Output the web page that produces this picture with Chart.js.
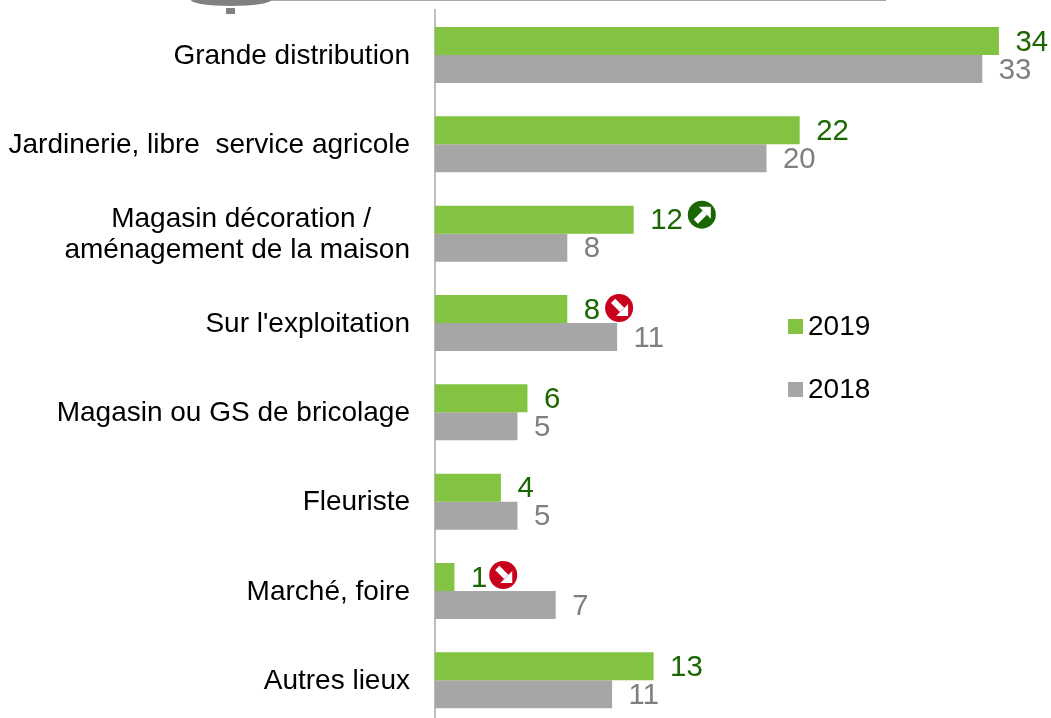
<!DOCTYPE html>
<html lang="fr">
<head>
  <meta charset="UTF-8">
  <title>Lieux d'achat 2019 / 2018</title>
  <style>
    html, body { margin: 0; padding: 0; background: #fff; overflow: hidden; }
    #frame { width: 1051px; height: 718px; overflow: hidden; }
    #plot { position: relative; width: 1051px; height: 725px; }
  </style>
</head>
<body>
  <div id="frame">
    <div id="plot">
      <canvas id="myChart" role="img" aria-label="Lieux d'achat, comparaison 2019 et 2018"></canvas>
    </div>
  </div>

  <script src="https://cdnjs.cloudflare.com/ajax/libs/Chart.js/4.4.1/chart.umd.js"></script>
  <script>
    const categories = [
      'Grande distribution',
      'Jardinerie, libre\u00a0 service agricole',
      ['Magasin décoration /\u00a0\u00a0\u00a0\u00a0\u00a0', 'aménagement de la maison'],
      "Sur l'exploitation",
      'Magasin ou GS de bricolage',
      'Fleuriste',
      'Marché, foire',
      'Autres lieux'
    ];
    // bar lengths, printed labels are the rounded figures
    const values2019 = [34, 22, 12, 8, 5.6, 4, 1.2, 13.2];
    const values2018 = [33, 20, 8, 11, 5, 5, 7.3, 10.7];
    const labels2019 = ['34', '22', '12', '8', '6', '4', '1', '13'];
    const labels2018 = ['33', '20', '8', '11', '5', '5', '7', '11'];
    const trend2019 = ['', '', 'up', 'down', '', '', 'down', ''];

    const FONT = '28px "Liberation Sans", Arial, sans-serif';
    const VALUE_FONT = '29.33px "Liberation Sans", Arial, sans-serif';
    const GREEN = '#82C341';
    const GREY = '#A6A6A6';
    const DARK_GREEN = '#1A6600';
    const LABEL_GREY = '#7F7F7F';
    const RED = '#C8001E';

    // badges were placed by hand on the slide, so each has its own nudge
    const badgeDx = [0, 0, 19, 19, 0, 0, 16, 0];
    const badgeDy = [0, 0, -5, -1, 0, 0, -2, 0];

    function drawBadge(ctx, cx, cy, dir) {
      ctx.save();
      ctx.fillStyle = dir === 'up' ? DARK_GREEN : RED;
      ctx.beginPath();
      ctx.arc(cx, cy, 14, 0, Math.PI * 2);
      ctx.fill();
      // white diagonal arrow, drawn pointing up-right then flipped for "down"
      ctx.translate(cx, cy);
      if (dir === 'down') ctx.scale(1, -1);
      ctx.strokeStyle = '#fff';
      ctx.lineWidth = 6;
      ctx.beginPath();
      ctx.moveTo(-6, 7);
      ctx.lineTo(3, -2);
      ctx.stroke();
      ctx.fillStyle = '#fff';
      ctx.beginPath();
      ctx.moveTo(-3, -8);
      ctx.lineTo(9, -8);
      ctx.lineTo(9, 4);
      ctx.closePath();
      ctx.fill();
      ctx.restore();
    }

    const decorPlugin = {
      id: 'decor',
      beforeDraw(chart) {
        const ctx = chart.ctx;
        ctx.save();
        // remains of the element cut off at the top of the slide
        ctx.fillStyle = '#A6A6A6';
        ctx.fillRect(262, 0, 624, 1);
        ctx.fillStyle = '#808080';
        ctx.beginPath();
        ctx.ellipse(231, 0, 40, 6, 0, 0, Math.PI * 2);
        ctx.fill();
        ctx.fillRect(226, 8, 9, 6);
        ctx.restore();
      }
    };

    const labelPlugin = {
      id: 'barLabels',
      afterDatasetsDraw(chart) {
        const ctx = chart.ctx;
        ctx.save();
        ctx.textBaseline = 'middle';
        ctx.textAlign = 'left';
        chart.data.datasets.forEach((ds, i) => {
          chart.getDatasetMeta(i).data.forEach((bar, j) => {
            const text = ds.barLabels[j];
            const x = bar.x + 16.5;
            ctx.font = VALUE_FONT;
            ctx.fillStyle = ds.labelColor;
            ctx.fillText(text, x, bar.y + 1.5);
            if (ds.trend && ds.trend[j]) {
              drawBadge(ctx, x + ctx.measureText(text).width + badgeDx[j], bar.y + badgeDy[j], ds.trend[j]);
            }
          });
        });
        // legend sits inside the plot, one row per series
        const rows = [319, 382];
        ctx.font = FONT;
        chart.data.datasets.forEach((ds, i) => {
          ctx.fillStyle = ds.backgroundColor;
          ctx.fillRect(788, rows[i], 15, 15);
          ctx.fillStyle = '#000';
          ctx.fillText(ds.label, 808, rows[i] + 8);
        });
        ctx.restore();
      }
    };

    new Chart(document.getElementById('myChart'), {
      type: 'bar',
      data: {
        labels: categories,
        datasets: [
          { label: '2019', data: values2019, backgroundColor: GREEN, barLabels: labels2019, labelColor: DARK_GREEN, trend: trend2019 },
          { label: '2018', data: values2018, backgroundColor: GREY, barLabels: labels2018, labelColor: LABEL_GREY }
        ]
      },
      options: {
        indexAxis: 'y',
        responsive: true,
        maintainAspectRatio: false,
        animation: false,
        layout: { padding: { top: 10.3, right: 2.3, left: 0, bottom: 0 } },
        datasets: { bar: { categoryPercentage: 0.627, barPercentage: 1 } },
        plugins: { legend: { display: false }, tooltip: { enabled: false } },
        scales: {
          x: { display: false, min: 0, max: 37 },
          y: {
            afterFit(scale) {
              scale.width = 434.5;
              // the two-line label must not shrink the plot
              scale.paddingTop = 0;
              scale.paddingBottom = 0;
            },
            grid: { display: false, drawTicks: false },
            border: { display: true, color: '#BFBFBF', width: 2 },
            ticks: {
              color: '#000',
              padding: 24.5,
              labelOffset: 1,
              font: { family: '"Liberation Sans", Arial, sans-serif', size: 28, lineHeight: 1.1 },
              autoSkip: false
            }
          }
        }
      },
      plugins: [decorPlugin, labelPlugin]
    });
  </script>
</body>
</html>
